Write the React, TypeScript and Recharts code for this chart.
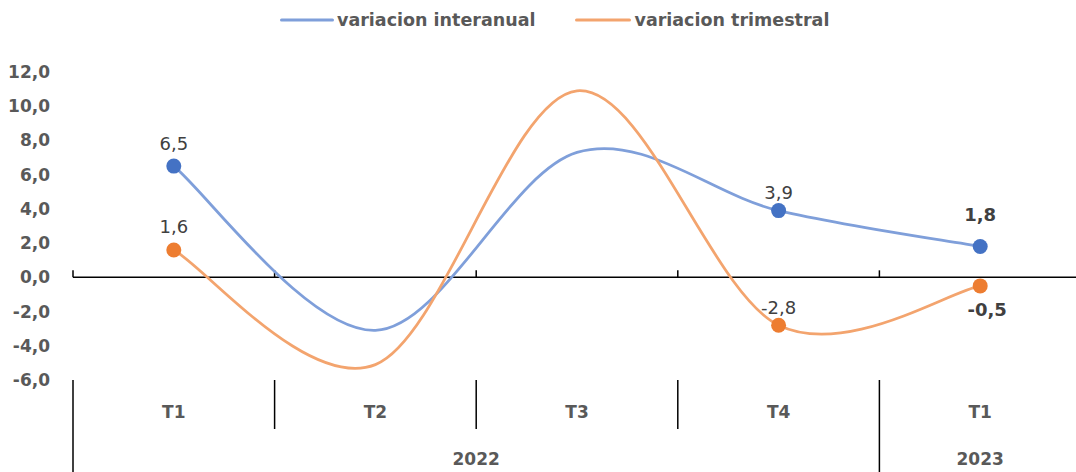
import React from "react";
import { LineChart, Line, XAxis, YAxis, ReferenceLine, LabelList, Legend } from "recharts";

const quarters = ["T1", "T2", "T3", "T4", "T1"];
const years = ["2022", "2022", "2022", "2022", "2023"];
const interanual = [6.5, -3.1, 7.3, 3.9, 1.8];
const trimestral = [1.6, -5.1, 10.9, -2.8, -0.5];
const yTicks = [-6, -4, -2, 0, 2, 4, 6, 8, 10, 12];
// points that carry a marker and a value label
const marked = [0, 3, 4];

const FONT = "'DejaVu Sans', sans-serif";
const BLUE = "#4472C4";
const BLUE_LINE = "#7F9FDA";
const ORANGE = "#ED7D31";
const ORANGE_LINE = "#F3A46E";
const AXIS_TEXT = "#595959";

const rows = quarters.map((q, i) => ({
  key: `${years[i]}-${q}`,
  interanual: interanual[i],
  trimestral: trimestral[i],
}));

const fmt = (v: number) => Number(v).toFixed(1).replace(".", ",");

// Excel-like smoothed line (Catmull-Rom converted to cubic beziers)
function excelCurve(context: any) {
  let pts: [number, number][] = [];
  return {
    areaStart() {},
    areaEnd() {},
    lineStart() {
      pts = [];
    },
    point(x: number, y: number) {
      pts.push([+x, +y]);
    },
    lineEnd() {
      const n = pts.length;
      if (!n) return;
      context.moveTo(pts[0][0], pts[0][1]);
      for (let i = 0; i < n - 1; i++) {
        const p0 = pts[Math.max(i - 1, 0)];
        const p1 = pts[i];
        const p2 = pts[i + 1];
        const p3 = pts[Math.min(i + 2, n - 1)];
        context.bezierCurveTo(
          p1[0] + (p2[0] - p0[0]) / 6,
          p1[1] + (p2[1] - p0[1]) / 6,
          p2[0] - (p3[0] - p1[0]) / 6,
          p2[1] - (p3[1] - p1[1]) / 6,
          p2[0],
          p2[1]
        );
      }
    },
  };
}

function CategoryTick(props: any) {
  const { x, y, payload, index, width, height } = props;
  const n = quarters.length;
  const half = width / (2 * n);
  const i = payload?.index ?? index;
  const left = x - half;
  const groupStart = i === 0 || years[i] !== years[i - 1];
  const groupSize = years.filter((yr) => yr === years[i]).length;
  const axisH = height || 92;
  const txt = { fontFamily: FONT, fontSize: 17, fontWeight: 700, fill: AXIS_TEXT };
  return (
    <g>
      <line x1={left} x2={left} y1={y} y2={groupStart ? y + axisH : y + 49} stroke="#000" strokeWidth={1.5} />
      <text x={x} y={y + 32} textAnchor="middle" dominantBaseline="central" {...txt}>
        {quarters[i]}
      </text>
      {groupStart && (
        <text x={left + groupSize * half} y={y + 79} textAnchor="middle" dominantBaseline="central" {...txt}>
          {years[i]}
        </text>
      )}
    </g>
  );
}

function ZeroAxis(props: any) {
  const { x1, x2, y1 } = props;
  const n = quarters.length;
  const step = (x2 - x1) / n;
  return (
    <g>
      <line x1={x1} x2={x2} y1={y1} y2={y1} stroke="#000" strokeWidth={1.5} />
      {Array.from({ length: n + 1 }, (_, k) => (
        <line key={k} x1={x1 + k * step} x2={x1 + k * step} y1={y1} y2={y1 - 7} stroke="#000" strokeWidth={1.5} />
      ))}
    </g>
  );
}

const makeDot = (color: string) => (p: any) =>
  marked.includes(p.index) ? (
    <circle key={`d${p.index}`} cx={p.cx} cy={p.cy} r={7.5} fill={color} />
  ) : (
    <g key={`d${p.index}`} />
  );

const makeLabel = (series: "interanual" | "trimestral") => (p: any) => {
  const i = p.index;
  if (!marked.includes(i)) return null;
  const x = p.x ?? p.viewBox?.x;
  const y = p.y ?? p.viewBox?.y;
  const last = i === quarters.length - 1;
  const below = last && series === "trimestral";
  let dy = i === 0 ? -23 : -18;
  if (last) dy = below ? 24 : -32;
  return (
    <text
      key={`l${i}`}
      x={x + (below ? 7 : 0)}
      y={y + dy}
      textAnchor="middle"
      dominantBaseline="central"
      fontFamily={FONT}
      fontSize={18}
      fontWeight={last ? 700 : 400}
      fill="#404040"
    >
      {fmt(p.value)}
    </text>
  );
};

function LegendContent() {
  return (
    <div
      style={{
        display: "flex",
        alignItems: "center",
        height: 40,
        paddingLeft: 280,
        fontFamily: FONT,
        fontWeight: 700,
        fontSize: 17.5,
        color: AXIS_TEXT,
        whiteSpace: "nowrap",
      }}
    >
      <svg width={54} height={6}>
        <line x1={1.5} x2={52.5} y1={3} y2={3} stroke={BLUE_LINE} strokeWidth={3} strokeLinecap="round" />
      </svg>
      <span style={{ marginLeft: 3 }}>variacion interanual</span>
      <svg width={56} height={6} style={{ marginLeft: 40 }}>
        <line x1={1.5} x2={54.5} y1={3} y2={3} stroke={ORANGE_LINE} strokeWidth={3} strokeLinecap="round" />
      </svg>
      <span style={{ marginLeft: 3 }}>variacion trimestral</span>
    </div>
  );
}

export default function App() {
  return (
    <div
      style={{
        position: "absolute",
        left: 0,
        top: 0,
        width: 1076,
        height: 472,
        overflow: "hidden",
        background: "#fff",
      }}
    >
      <LineChart width={1081} height={472} data={rows} margin={{ top: 72, right: 0, bottom: 0, left: 0 }}>
        <Legend
          verticalAlign="middle"
          align="center"
          layout="horizontal"
          content={<LegendContent />}
          wrapperStyle={{ top: 0, left: 0, width: 1076, height: 40 }}
        />
        <XAxis
          dataKey="key"
          scale="band"
          height={92}
          axisLine={false}
          tickLine={false}
          tickSize={0}
          tickMargin={0}
          interval={0}
          tick={<CategoryTick />}
        />
        <YAxis
          width={73}
          domain={[-6, 12]}
          ticks={yTicks}
          axisLine={false}
          tickLine={false}
          tickSize={0}
          tickMargin={23}
          tickFormatter={fmt}
          tick={{ fill: AXIS_TEXT, fontSize: 17, fontWeight: 700, fontFamily: FONT }}
        />
        <ReferenceLine y={0} shape={ZeroAxis} />
        <Line
          dataKey="interanual"
          type={excelCurve as any}
          stroke={BLUE_LINE}
          strokeWidth={2.75}
          dot={makeDot(BLUE)}
          activeDot={false}
          isAnimationActive={false}
        >
          <LabelList dataKey="interanual" content={makeLabel("interanual")} />
        </Line>
        <Line
          dataKey="trimestral"
          type={excelCurve as any}
          stroke={ORANGE_LINE}
          strokeWidth={2.75}
          dot={makeDot(ORANGE)}
          activeDot={false}
          isAnimationActive={false}
        >
          <LabelList dataKey="trimestral" content={makeLabel("trimestral")} />
        </Line>
      </LineChart>
    </div>
  );
}
